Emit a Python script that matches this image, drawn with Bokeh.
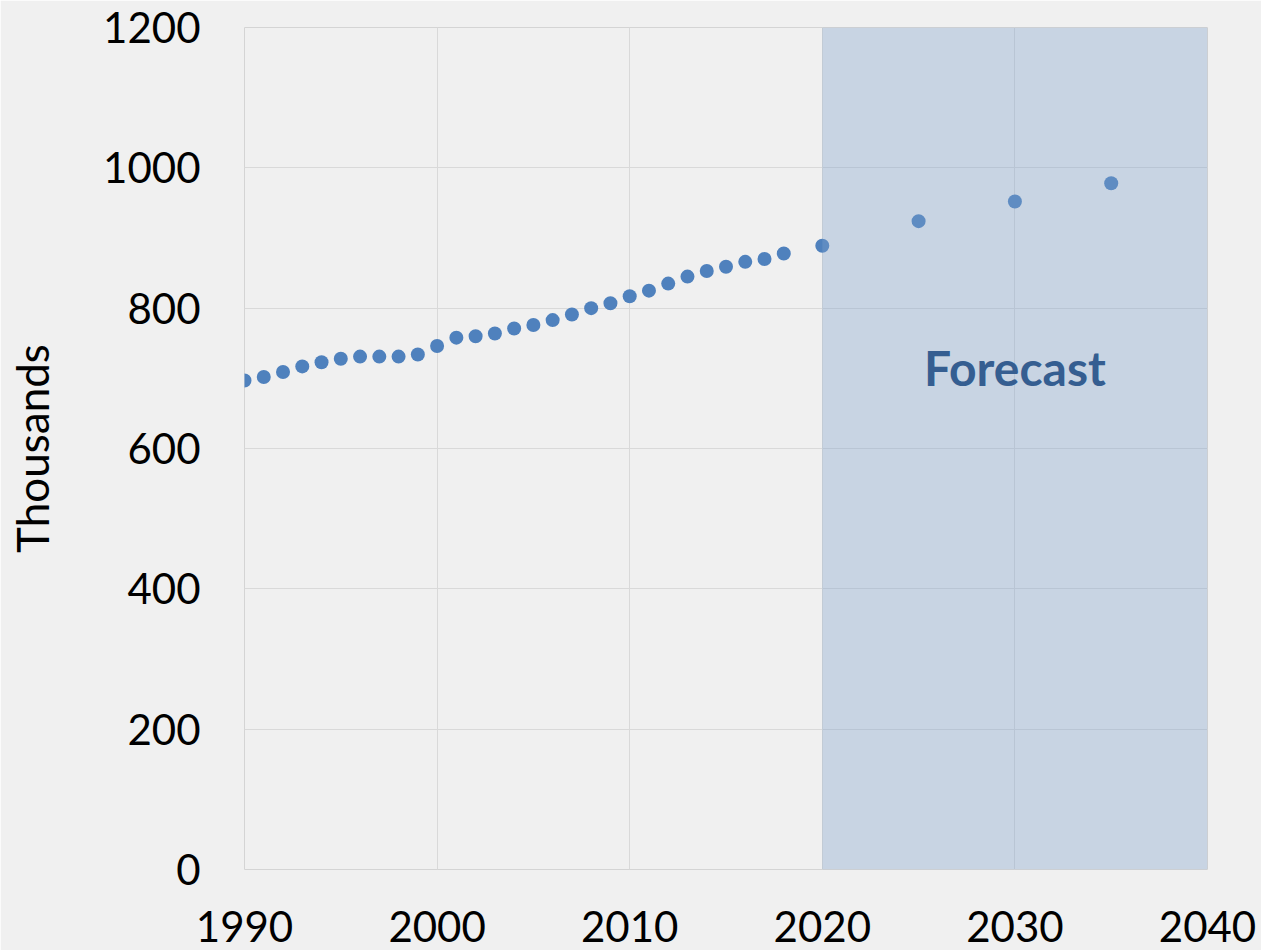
from bokeh.plotting import figure
from bokeh.models import BoxAnnotation, Label, FixedTicker, Range1d, ColumnDataSource
from bokeh.embed import file_html
from bokeh.resources import INLINE

years = [1990, 1991, 1992, 1993, 1994, 1995, 1996, 1997, 1998, 1999,
         2000, 2001, 2002, 2003, 2004, 2005, 2006, 2007, 2008, 2009,
         2010, 2011, 2012, 2013, 2014, 2015, 2016, 2017, 2018, 2020,
         2025, 2030, 2035]
values = [697, 702, 709, 717, 723, 728, 731, 731, 731, 734,
          746, 758, 760, 764, 771, 776, 783, 791, 800, 807,
          817, 825, 835, 845, 853, 859, 866, 870, 878, 889,
          924, 952, 978]
x_ticks = [1990, 2000, 2010, 2020, 2030, 2040]
y_ticks = [0, 200, 400, 600, 800, 1000, 1200]
forecast_start = 2020
forecast_end = 2040
forecast_label = "Forecast"
y_title = "Thousands"

BG = "#f0f0f0"
FONT = "Lato"

p = figure(frame_width=963, frame_height=842,
           x_range=Range1d(1990, 2040), y_range=Range1d(0, 1200),
           output_backend="svg", toolbar_location=None,
           background_fill_color=BG, border_fill_color=BG,
           min_border_left=244, min_border_top=27,
           min_border_right=54, min_border_bottom=81,
           outline_line_color="#d4d4d4", outline_line_width=1)

p.add_layout(BoxAnnotation(left=forecast_start, right=forecast_end,
                           bottom=0, top=1200,
                           fill_color="#7ea0cb", fill_alpha=0.35,
                           line_color=None))

src = ColumnDataSource(dict(x=years, y=values))
p.scatter("x", "y", source=src, size=14, color="#4f81bd", line_color=None)

p.add_layout(Label(x=(forecast_start + forecast_end) / 2, y=715,
                   text=forecast_label, text_align="center",
                   text_baseline="middle", text_font=FONT,
                   text_font_style="bold", text_font_size="48px",
                   text_color="#355e91"))

p.xaxis.ticker = FixedTicker(ticks=x_ticks)
p.yaxis.ticker = FixedTicker(ticks=y_ticks)
for ax in (p.xaxis, p.yaxis):
    ax.axis_line_color = None
    ax.major_tick_line_color = None
    ax.minor_tick_line_color = None
    ax.major_label_text_font = FONT
    ax.major_label_text_font_size = "42px"
    ax.major_label_text_color = "#000000"
p.yaxis.major_label_standoff = 38
p.xaxis.major_label_standoff = 35
p.yaxis.axis_label = y_title
p.yaxis.axis_label_text_font = FONT
p.yaxis.axis_label_text_font_size = "44px"
p.yaxis.axis_label_text_font_style = "normal"
p.yaxis.axis_label_text_color = "#000000"
p.yaxis.axis_label_standoff = 42

p.xgrid.grid_line_color = "#d9d9d9"
p.ygrid.grid_line_color = "#d9d9d9"
p.xgrid.grid_line_width = 1
p.ygrid.grid_line_width = 1

html = file_html(p, INLINE)
html = html.replace("<body>", '<body style="background-color:#f0f0f0;margin:0;overflow:hidden;">', 1)
open("out.html", "w").write(html)
